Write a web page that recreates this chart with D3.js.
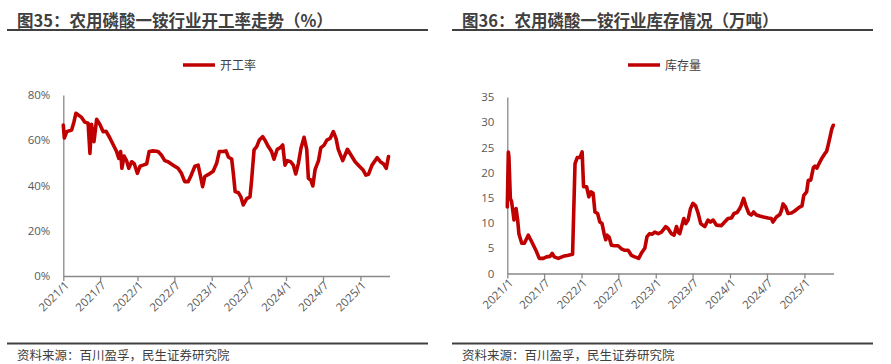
<!DOCTYPE html>
<html><head><meta charset="utf-8">
<script src="https://cdn.jsdelivr.net/npm/d3@7"></script>
<style>
body{margin:0;background:#fff;}
svg{display:block;font-family:"Noto Sans CJK SC","Noto Sans",sans-serif;}
</style></head>
<body><svg id="c" width="891" height="364"></svg>
<script>
// ---------- data ----------
const titles = ["图35：农用磷酸一铵行业开工率走势（%）", "图36：农用磷酸一铵行业库存情况（万吨）"];
const legendNames = ["开工率", "库存量"];
const sourceText = "资料来源：百川盈孚，民生证券研究院";
const xTickLabels = ["2021/1","2021/7","2022/1","2022/7","2023/1","2023/7","2024/1","2024/7","2025/1"];
const rateTicks = [0, 20, 40, 60, 80];
const stockTicks = [0, 5, 10, 15, 20, 25, 30, 35];

const rateDates = ["2021-01-01","2021-01-06","2021-01-18","2021-02-11","2021-02-22","2021-03-04","2021-04-01","2021-04-17","2021-05-03","2021-05-12","2021-05-20","2021-06-01","2021-06-14","2021-06-30","2021-07-16","2021-07-30","2021-08-18","2021-09-04","2021-09-20","2021-10-01","2021-10-10","2021-10-16","2021-10-27","2021-11-08","2021-11-19","2021-12-03","2021-12-16","2021-12-31","2022-01-13","2022-01-29","2022-02-15","2022-02-27","2022-03-18","2022-04-12","2022-04-28","2022-05-15","2022-05-31","2022-06-25","2022-07-19","2022-08-05","2022-08-21","2022-09-07","2022-09-23","2022-10-10","2022-10-26","2022-11-07","2022-11-17","2022-11-28","2022-12-14","2023-01-08","2023-01-25","2023-02-07","2023-02-27","2023-03-12","2023-03-24","2023-04-09","2023-04-17","2023-04-26","2023-05-12","2023-05-24","2023-06-05","2023-06-22","2023-07-08","2023-07-16","2023-07-28","2023-08-10","2023-08-23","2023-09-08","2023-09-20","2023-10-06","2023-10-22","2023-11-03","2023-11-19","2023-12-02","2023-12-16","2023-12-27","2024-01-08","2024-01-24","2024-02-06","2024-02-18","2024-03-02","2024-03-15","2024-03-30","2024-04-12","2024-04-20","2024-05-02","2024-05-12","2024-05-23","2024-06-09","2024-06-20","2024-07-07","2024-07-20","2024-08-05","2024-08-21","2024-09-03","2024-09-14","2024-10-06","2024-10-29","2024-11-20","2024-12-06","2024-12-22","2025-01-13","2025-01-28","2025-02-10","2025-02-27","2025-03-24","2025-04-09","2025-04-25","2025-05-08","2025-05-19"];
const rateValues = [66.7,61,63.8,64.5,68,71.9,70.1,68,67.5,54.2,67,59.4,69.3,67,63.8,64,61,57.9,55,52,55,47.6,53,51,47.6,50.5,49.6,45.4,48.5,49,49.6,55,55.3,55,53.5,51,50.5,49,47.6,45.4,41.7,41.7,44.8,48.5,49,44,39.5,44,44.8,46.3,49.8,55,55,55.3,52.5,51.7,45.4,37.3,36.8,35,31.4,34.2,35,42.4,55.7,57.2,60.1,61.6,60,57.2,55,51.6,56,56.6,57.9,49,51,50.5,49,45.1,49.8,56.6,61.3,56,43.2,42.4,39.8,47,51,56.6,57.9,60.1,60.8,63.8,60.8,56,51,56,52.8,50.5,49,47,44.6,45,49,52.3,50.5,49.5,47.6,52.8];

const stockDates = ["2021-01-01","2021-01-06","2021-01-09","2021-01-16","2021-01-22","2021-02-03","2021-02-13","2021-02-21","2021-02-27","2021-03-13","2021-03-26","2021-04-14","2021-05-01","2021-05-13","2021-05-25","2021-06-07","2021-06-27","2021-07-13","2021-07-30","2021-08-10","2021-08-20","2021-09-09","2021-10-03","2021-10-28","2021-11-18","2021-11-30","2021-12-11","2021-12-24","2022-01-04","2022-01-11","2022-01-26","2022-02-06","2022-02-16","2022-02-27","2022-03-08","2022-03-21","2022-04-01","2022-04-12","2022-04-22","2022-04-30","2022-05-07","2022-05-17","2022-05-28","2022-06-13","2022-06-30","2022-07-16","2022-08-02","2022-08-18","2022-09-03","2022-09-20","2022-10-09","2022-10-22","2022-11-08","2022-11-19","2022-12-02","2022-12-15","2022-12-27","2023-01-13","2023-01-29","2023-02-19","2023-03-03","2023-03-19","2023-04-01","2023-04-13","2023-04-21","2023-04-29","2023-05-08","2023-05-19","2023-05-29","2023-06-09","2023-06-21","2023-07-03","2023-07-16","2023-07-28","2023-08-10","2023-08-30","2023-09-15","2023-09-27","2023-10-10","2023-10-26","2023-11-20","2023-12-06","2023-12-22","2024-01-08","2024-01-21","2024-02-05","2024-02-18","2024-02-26","2024-03-08","2024-03-21","2024-04-03","2024-04-15","2024-04-26","2024-05-10","2024-05-26","2024-06-14","2024-07-06","2024-07-22","2024-07-30","2024-08-16","2024-09-02","2024-09-10","2024-09-18","2024-09-30","2024-10-12","2024-10-29","2024-11-14","2024-12-06","2024-12-20","2024-12-29","2025-01-12","2025-01-20","2025-02-01","2025-02-14","2025-02-22","2025-03-03","2025-03-14","2025-03-27","2025-04-12","2025-04-20","2025-04-28","2025-05-07","2025-05-15","2025-05-23"];
const stockValues = [13.2,24.1,23.1,14.9,14.3,10.6,12.9,10.6,7.9,6,6,7.6,6.3,5.3,4.3,3,3,3.3,3.4,4,3.3,3,3.4,3.6,3.8,21.8,23,23,24.1,17.2,17.2,15.2,16.2,15.9,12.2,11.9,10.2,9.9,7.9,6.7,7.6,7.2,5.6,5.5,5.5,4.9,4.6,4.6,3.6,3.3,3,4,5,7.3,7.9,7.8,8.2,7.9,8.2,9.3,8.9,7.9,7.6,9.3,8.2,7.9,9.3,10.9,9.9,10.6,12.9,13.9,13.4,12,9.9,9.3,10.6,10.2,10.6,9.6,9.5,10.2,10.9,11,11.9,12.1,12.9,13.6,14.9,13.2,11.9,11.6,12.2,11.6,11.4,11.2,11,10.9,10.2,11.2,11.7,12.5,13.8,13.2,11.9,12,12.4,13.1,13.4,15.5,16.2,18.5,18.5,21,21.3,20.9,21.8,22.8,23.8,24.2,25.5,27.1,28.6,29.4];

// ---------- drawing ----------
const svg = d3.select("#c");
const parse = d3.timeParse("%Y-%m-%d");
const RED = "#C00000", DARK = "#404040", AXIS = "#898989", LABEL = "#595959";

function panel(opt){
  const g = svg.append("g");
  // title
  g.append("text").attr("x", opt.ox + 10).attr("y", 26.5)
    .attr("font-size", 16.5).attr("font-weight", "bold").attr("fill", DARK)
    .text(opt.title);
  g.append("line").attr("x1", opt.ox).attr("x2", opt.ox + 421).attr("y1", 30).attr("y2", 30)
    .attr("stroke", DARK).attr("stroke-width", 2);
  // footer
  g.append("line").attr("x1", opt.ox).attr("x2", opt.ox + 421).attr("y1", 343.5).attr("y2", 343.5)
    .attr("stroke", DARK).attr("stroke-width", 2);
  g.append("text").attr("x", opt.ox + 10).attr("y", 360)
    .attr("font-size", 12.5).attr("fill", DARK).text(sourceText);
  // legend
  g.append("line").attr("x1", opt.legX).attr("x2", opt.legX + 32).attr("y1", 65).attr("y2", 65)
    .attr("stroke", RED).attr("stroke-width", 3.5);
  g.append("text").attr("x", opt.legX + 37).attr("y", 69.5)
    .attr("font-size", 12).attr("fill", DARK).text(opt.legend);

  const x = d3.scaleTime().domain([parse("2021-01-01"), parse("2025-05-24")]).range([opt.x0, opt.x1]);
  const y = d3.scaleLinear().domain(opt.yDomain).range([opt.yBottom, opt.yTop]);

  // y axis
  const ya = g.append("g").attr("transform", `translate(${opt.x0},0)`)
    .call(d3.axisLeft(y).tickValues(opt.yTicks).tickSize(0).tickPadding(13).tickFormat(opt.yFmt));
  ya.select(".domain").attr("stroke", AXIS).attr("stroke-width", 1.3);
  ya.selectAll("text").attr("fill", LABEL).attr("font-size", 11.5)
    .attr("font-family", "'Open Sans','Noto Sans',sans-serif");

  // x axis
  const tickDates = xTickLabels.map(s => { const [yy, mm] = s.split("/"); return new Date(+yy, +mm - 1, 1); });
  const xa = g.append("g").attr("transform", `translate(0,${opt.yBottom})`)
    .call(d3.axisBottom(x).tickValues(tickDates).tickSizeInner(5).tickSizeOuter(0)
      .tickFormat((d, i) => xTickLabels[i]));
  xa.select(".domain").attr("stroke", AXIS).attr("stroke-width", 1.3);
  xa.selectAll(".tick line").attr("stroke", AXIS).attr("stroke-width", 1.3);
  xa.selectAll("text").attr("fill", LABEL).attr("font-size", 11.5)
    .attr("font-family", "'Open Sans','Noto Sans',sans-serif")
    .attr("text-anchor", "end").attr("dy", null).attr("y", 0)
    .attr("transform", "translate(6,10) rotate(-45)");

  // line
  const data = opt.dates.map((d, i) => ({ d: parse(d), v: opt.values[i] }));
  g.append("path").datum(data)
    .attr("fill", "none").attr("stroke", RED).attr("stroke-width", 3.6)
    .attr("stroke-linejoin", "round").attr("stroke-linecap", "round")
    .attr("d", d3.line().x(p => x(p.d)).y(p => y(p.v)));
}

panel({ ox: 7, title: titles[0], legend: legendNames[0], legX: 183,
  x0: 63.3, x1: 389.5, yTop: 95, yBottom: 276, yDomain: [0, 80],
  yTicks: rateTicks, yFmt: d => d + "%", dates: rateDates, values: rateValues });
panel({ ox: 452, title: titles[1], legend: legendNames[1], legX: 628,
  x0: 507.3, x1: 833.5, yTop: 97, yBottom: 273.5, yDomain: [0, 35],
  yTicks: stockTicks, yFmt: d => d, dates: stockDates, values: stockValues });
</script>
</body></html>
